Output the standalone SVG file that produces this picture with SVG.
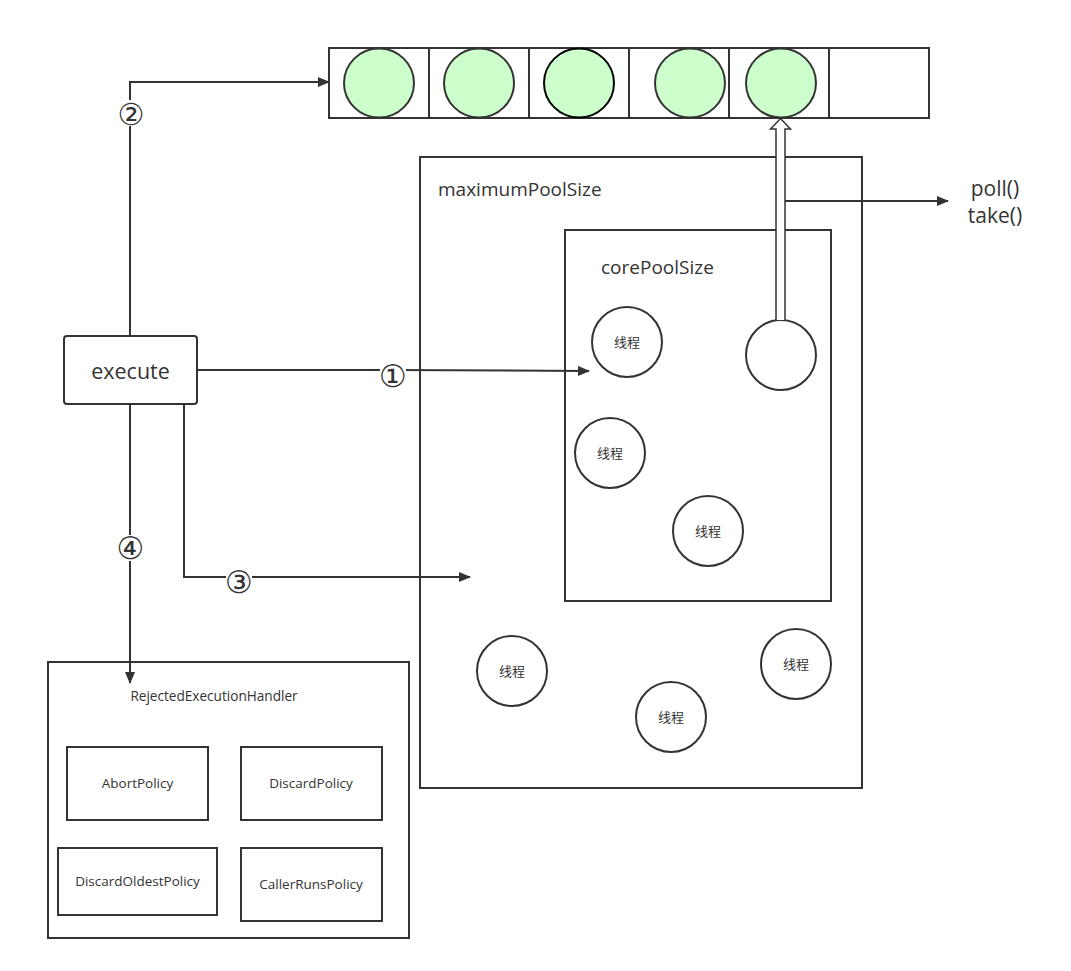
<svg xmlns="http://www.w3.org/2000/svg" width="1071" height="971" viewBox="0 0 1071 971">
<defs>
<marker id="arr" markerWidth="12" markerHeight="10" refX="11" refY="5" orient="auto" markerUnits="userSpaceOnUse">
<path d="M0,0 L12,5 L0,10 Z" fill="#333"/>
</marker>
</defs>
<style>
.t{font-family:"Open Sans","Noto Sans CJK SC",sans-serif;fill:#333;}
.c{font-family:"Noto Sans CJK SC",sans-serif;fill:#333;}
.n{font-family:"DejaVu Sans","Noto Sans CJK SC",sans-serif;fill:#333;}
.box{fill:#fff;stroke:#333;stroke-width:2;}
.thr{fill:#fff;stroke:#333;stroke-width:2;}
.task{fill:#CCFFCC;stroke:#333;stroke-width:2;}
.ln{fill:none;stroke:#333;stroke-width:2;}
.lbl{fill:#fff;stroke:none;}
</style>
<rect width="1071" height="971" fill="#fff"/>

<g id="queue">
<rect class="box" x="329" y="48" width="600" height="70"/>
<path class="ln" d="M429,48V118M529,48V118M629,48V118M729,48V118M829,48V118"/>
<ellipse class="task" cx="379" cy="83" rx="35" ry="34.5"/>
<ellipse class="task" cx="479" cy="83" rx="35" ry="34.5"/>
<ellipse class="task" cx="579" cy="83" rx="35" ry="34.5" style="stroke:#000"/>
<ellipse class="task" cx="690" cy="83" rx="35" ry="34.5"/>
<ellipse class="task" cx="781" cy="83" rx="35" ry="34.5"/>
</g>

<g id="maxPool">
<rect class="box" x="420" y="157" width="442" height="631"/>
<text class="t" x="438" y="196" font-size="19">maximumPoolSize</text>
</g>

<g id="corePool">
<rect class="box" x="565" y="230" width="266" height="371"/>
<text class="t" x="601" y="274" font-size="19">corePoolSize</text>
</g>

<g id="threads">
<g id="t1"><circle class="thr" cx="627" cy="342" r="35"/><text class="c" x="627" y="347" font-size="13" text-anchor="middle">线程</text></g>
<g id="t2"><circle class="thr" cx="610" cy="453" r="35"/><text class="c" x="610" y="458" font-size="13" text-anchor="middle">线程</text></g>
<g id="t3"><circle class="thr" cx="708" cy="531" r="35"/><text class="c" x="708" y="536" font-size="13" text-anchor="middle">线程</text></g>
<g id="t4"><circle class="thr" cx="512" cy="671" r="35"/><text class="c" x="512" y="676" font-size="13" text-anchor="middle">线程</text></g>
<g id="t5"><circle class="thr" cx="671" cy="717" r="35"/><text class="c" x="671" y="722" font-size="13" text-anchor="middle">线程</text></g>
<g id="t6"><circle class="thr" cx="796" cy="664" r="35"/><text class="c" x="796" y="669" font-size="13" text-anchor="middle">线程</text></g>
<g id="t0"><circle class="thr" cx="781" cy="355" r="35"/></g>
</g>

<g id="execute">
<rect class="box" x="64" y="336" width="133" height="68" rx="3"/>
<text class="t" x="130.5" y="379" font-size="21.5" text-anchor="middle">execute</text>
</g>

<g id="rejected">
<rect class="box" x="48" y="662" width="361" height="276"/>
<text class="t" x="214" y="701" font-size="13.6" text-anchor="middle">RejectedExecutionHandler</text>
<g id="abort"><rect class="box" x="67" y="747" width="141" height="73"/><text class="t" x="137.5" y="788" font-size="13.5" text-anchor="middle">AbortPolicy</text></g>
<g id="discard"><rect class="box" x="241" y="747" width="141" height="73"/><text class="t" x="311" y="788" font-size="13.5" text-anchor="middle">DiscardPolicy</text></g>
<g id="oldest"><rect class="box" x="58" y="848" width="159" height="67"/><text class="t" x="137.5" y="886" font-size="13.5" text-anchor="middle">DiscardOldestPolicy</text></g>
<g id="caller"><rect class="box" x="241" y="848" width="141" height="73"/><text class="t" x="311" y="889" font-size="13.5" text-anchor="middle">CallerRunsPolicy</text></g>
</g>

<g id="pollText">
<text class="t" x="995" y="196" font-size="21" text-anchor="middle">poll()</text>
<text class="t" x="995" y="223" font-size="21" text-anchor="middle">take()</text>
</g>

<g id="connectors">
<path class="ln" d="M197,370H391L589,371" marker-end="url(#arr)"/>
<path class="ln" d="M130,336V82H329" marker-end="url(#arr)"/>
<path class="ln" d="M184,404V577H470" marker-end="url(#arr)"/>
<path class="ln" d="M130,404V683" marker-end="url(#arr)"/>
<path class="ln" d="M785,201H948" marker-end="url(#arr)"/>
<path d="M776,320V129H770.5L780.5,118.5L790.5,129H785V320" fill="#fff" stroke="#333" stroke-width="1.5"/>
<rect class="lbl" x="380" y="362" width="26" height="27"/>
<text class="n" x="393" y="386.5" font-size="31" text-anchor="middle">①</text>
<rect class="lbl" x="118" y="100" width="26" height="26"/>
<text class="n" x="131" y="124.5" font-size="30" text-anchor="middle">②</text>
<rect class="lbl" x="226" y="568" width="26" height="26"/>
<text class="n" x="239" y="592.5" font-size="31" text-anchor="middle">③</text>
<rect class="lbl" x="118" y="535" width="26" height="26"/>
<text class="n" x="130.5" y="559" font-size="31" text-anchor="middle">④</text>
</g>
</svg>
